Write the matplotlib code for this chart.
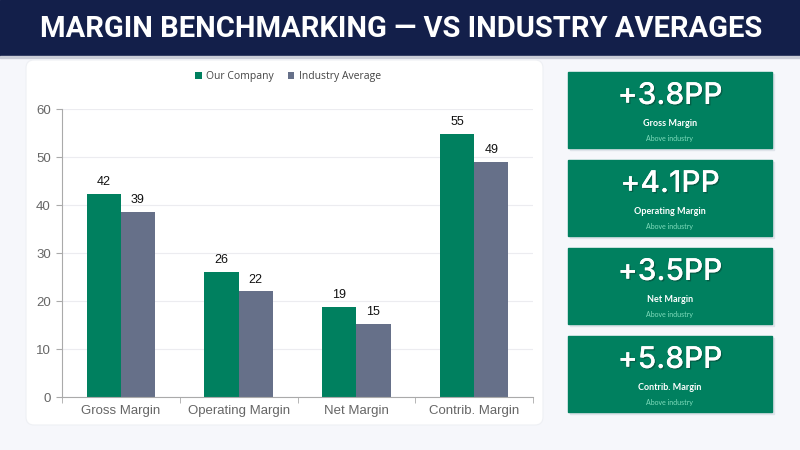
import numpy as np
import matplotlib.pyplot as plt
from matplotlib.patches import FancyBboxPatch, Rectangle
from matplotlib import patheffects

categories = ['Gross Margin', 'Operating Margin', 'Net Margin', 'Contrib. Margin']
our_company = [42.3, 26.1, 18.8, 54.8]
industry_avg = [38.5, 22.0, 15.3, 49.0]
card_values = ['+3.8PP', '+4.1PP', '+3.5PP', '+5.8PP']
card_labels = ['Gross Margin', 'Operating Margin', 'Net Margin', 'Contrib. Margin']

GREEN = '#00805f'
GREY = '#667089'
NAVY = '#131f4a'

W, H = 800, 450
fig = plt.figure(figsize=(8, 4.5), dpi=100)
fig.patch.set_facecolor('#f6f7fb')

def box(x, y, w, h):
    # pixel coords (top-left origin) -> figure fraction
    return [x / W, 1 - (y + h) / H, w / W, h / H]

# header band
bg = fig.add_axes([0, 0, 1, 1])
bg.set_xlim(0, W)
bg.set_ylim(H, 0)
bg.axis('off')
bg.add_patch(Rectangle((0, 0), W, 56, color=NAVY, zorder=1))
bg.add_patch(Rectangle((0, 56), W, 1.5, color='#c9ccd6', zorder=1))
title = bg.text(40, 29, 'MARGIN BENCHMARKING — VS INDUSTRY AVERAGES', color='white',
                fontsize=21, fontfamily=['Liberation Sans Narrow', 'Roboto'],
                fontweight='bold', va='center', ha='left')
# squeeze the title to the reference width
fig.canvas.draw()
tw = title.get_window_extent().width
from matplotlib.transforms import Affine2D
sx = min(1.0, 668 / tw)
title.set_transform(Affine2D().scale(sx, 1).translate(40 * (1 - sx), 0) + bg.transData)

# chart panel
bg.add_patch(FancyBboxPatch((26, 60), 517, 365, boxstyle='round,pad=0,rounding_size=8',
                            facecolor='white', edgecolor='#eef0f4', lw=0.8, zorder=1))

# KPI cards
for i, (val, lab) in enumerate(zip(card_values, card_labels)):
    y0 = 72 + i * 88
    bg.add_patch(Rectangle((570, y0 + 2), 204, 76, color='#dfe3ea', zorder=1))
    bg.add_patch(Rectangle((568, y0), 204, 76, color=GREEN, zorder=2))
    bg.text(670, y0 + 24, val, color='white', fontsize=21.5, fontfamily='Inter',
            fontweight='medium', ha='center', va='center', zorder=3,
            path_effects=[patheffects.withSimplePatchShadow(offset=(1, -1), shadow_rgbFace='#0b3d30', alpha=0.5),
                          patheffects.Normal()])
    bg.text(670, y0 + 51, lab, color='white', fontsize=6.5, fontfamily='Lato',
            fontweight='bold', ha='center', va='center', zorder=3)
    bg.text(670, y0 + 66, 'Above industry', color='#7fdcbc', fontsize=5, fontfamily='Lato',
            ha='center', va='center', zorder=3)

# bar chart
ax = fig.add_axes(box(62, 109, 471, 288))
x = np.arange(len(categories))
bw = 0.29
b1 = ax.bar(x - bw / 2, our_company, bw, color=GREEN, label='Our Company', zorder=2)
b2 = ax.bar(x + bw / 2, industry_avg, bw, color=GREY, label='Industry Average', zorder=2)
for bars in (b1, b2):
    for r in bars:
        v = r.get_height()
        ax.text(r.get_x() + r.get_width() / 2, v + 1.2, str(int(v + 0.5)),
                ha='center', va='bottom', fontsize=9, fontfamily='Liberation Sans', color='#111111')

ax.set_xlim(-0.5, 3.5)
ax.set_ylim(0, 60)
ax.set_yticks(range(0, 61, 10))
ax.set_xticks(x)
ax.set_xticklabels(categories)
ax.set_xticks(np.arange(-0.5, 4, 1), minor=True)
ax.tick_params(axis='x', which='major', length=0, pad=6)
ax.tick_params(axis='x', which='minor', length=4, color='#aaaaaa')
ax.tick_params(axis='y', length=4, color='#aaaaaa', pad=4)
for lab in ax.get_xticklabels() + ax.get_yticklabels():
    lab.set_fontfamily('Liberation Sans')
    lab.set_fontsize(9.5)
    lab.set_color('#666666')
ax.grid(axis='y', color='#ececf0', lw=0.8, zorder=0)
ax.set_facecolor('none')
for s in ('top', 'right'):
    ax.spines[s].set_visible(False)
ax.spines['left'].set_color('#aaaaaa')
ax.spines['bottom'].set_color('#aaaaaa')

leg = ax.legend(loc='lower center', bbox_to_anchor=(0.48, 1.06), ncol=2, frameon=False,
                handlelength=0.6, handleheight=0.6, handletextpad=0.4, columnspacing=1.4,
                prop={'family': 'Open Sans', 'size': 7.5})
for t in leg.get_texts():
    t.set_color('#444444')

fig.savefig('out.png', dpi=100, facecolor=fig.get_facecolor())
